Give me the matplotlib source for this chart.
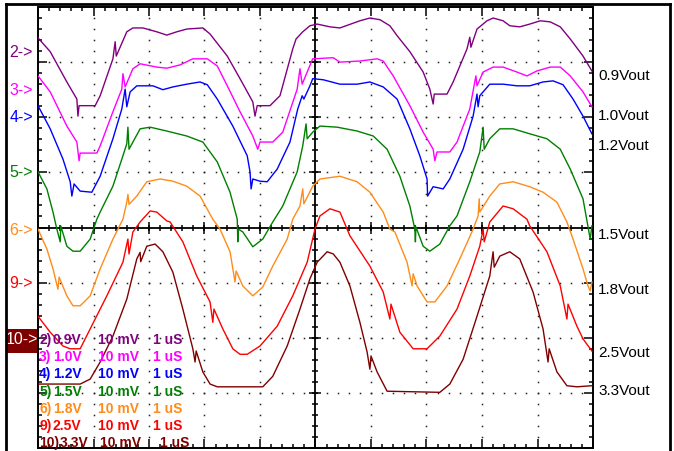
import numpy as np
import matplotlib
matplotlib.use("Agg")
import matplotlib.pyplot as plt
from matplotlib.lines import Line2D
from matplotlib.patches import Rectangle

# -----------------------------
# Scope traces: time in us (1 uS/div), position in screen divisions (10 mV/div, 0 = centre)
# -----------------------------
t2 = [0, 0.22, 0.52, 0.70, 0.72, 0.74, 1.03, 1.12, 1.35, 1.39, 1.41, 1.60, 1.71, 1.89, 2.14, 2.32,
      2.50, 2.68, 2.97, 3.10, 3.41, 3.64, 3.87, 3.91, 3.95, 4.18, 4.36, 4.59, 4.65, 4.77, 4.90, 5.03,
      5.26, 5.44, 5.80, 5.98, 6.16, 6.34, 6.47, 6.70, 6.94, 7.06, 7.12, 7.14, 7.37, 7.48, 7.73, 7.78,
      7.80, 7.91, 8.09, 8.20, 8.38, 8.50, 8.68, 8.86, 9.05, 9.23, 9.41, 9.59, 9.82, 9.98]
y2 = [3.44, 3.19, 2.64, 2.33, 2.02, 2.21, 2.21, 2.39, 3.06, 3.37, 3.11, 3.55, 3.62, 3.62, 3.55, 3.49,
      3.55, 3.60, 3.62, 3.51, 3.11, 2.70, 2.28, 2.02, 2.21, 2.21, 2.39, 3.24, 3.42, 3.55, 3.66, 3.69,
      3.64, 3.62, 3.75, 3.80, 3.77, 3.66, 3.48, 3.19, 2.82, 2.51, 2.24, 2.42, 2.42, 2.64, 3.24, 3.45,
      3.27, 3.60, 3.75, 3.80, 3.75, 3.66, 3.64, 3.69, 3.75, 3.73, 3.64, 3.42, 3.11, 2.84]

t3 = [0, 0.22, 0.52, 0.70, 0.74, 0.76, 1.06, 1.12, 1.35, 1.51, 1.53, 1.57, 1.71, 1.84, 2.14, 2.32,
      2.56, 2.79, 3.05, 3.23, 3.41, 3.64, 3.87, 3.96, 4.00, 4.23, 4.41, 4.67, 4.72, 4.76, 4.85, 4.95,
      5.32, 5.44, 5.80, 6.11, 6.22, 6.40, 6.70, 6.94, 7.12, 7.15, 7.19, 7.42, 7.55, 7.78, 7.89, 7.91,
      8.02, 8.20, 8.38, 8.63, 8.81, 8.99, 9.23, 9.41, 9.59, 9.82, 9.98]
y3 = [2.75, 2.46, 1.84, 1.55, 1.21, 1.35, 1.35, 1.48, 2.10, 2.51, 2.79, 2.55, 2.88, 2.97, 2.91, 2.89,
      2.95, 3.06, 3.06, 2.93, 2.57, 2.10, 1.66, 1.42, 1.55, 1.55, 1.73, 2.51, 2.88, 2.60, 2.82, 3.06,
      3.08, 3.00, 3.02, 3.06, 3.02, 2.75, 2.21, 1.73, 1.42, 1.21, 1.37, 1.37, 1.55, 2.15, 2.75, 2.57,
      2.82, 2.91, 2.91, 2.82, 2.75, 2.84, 2.91, 2.91, 2.75, 2.46, 2.19]

t4 = [0, 0.22, 0.45, 0.58, 0.61, 0.65, 0.76, 0.97, 1.12, 1.35, 1.51, 1.57, 1.60, 1.66, 1.78, 2.07,
      2.25, 2.43, 2.68, 2.92, 3.05, 3.23, 3.51, 3.77, 3.82, 3.84, 3.87, 4.00, 4.13, 4.31, 4.54, 4.68,
      4.76, 4.79, 4.90, 4.95, 5.14, 5.44, 5.75, 5.98, 6.22, 6.47, 6.70, 6.88, 7.01, 7.02, 7.12, 7.30,
      7.42, 7.66, 7.84, 7.91, 7.93, 7.96, 8.14, 8.38, 8.63, 8.86, 9.10, 9.28, 9.46, 9.64, 9.82, 9.98]
y4 = [2.21, 1.79, 1.24, 0.83, 0.57, 0.79, 0.66, 0.64, 0.93, 1.61, 2.15, 2.51, 2.19, 2.46, 2.57, 2.57,
      2.50, 2.55, 2.60, 2.64, 2.59, 2.33, 1.84, 1.30, 1.01, 0.70, 0.88, 0.84, 0.83, 1.06, 1.55, 2.15,
      2.39, 2.33, 2.57, 2.70, 2.68, 2.60, 2.60, 2.64, 2.55, 2.33, 1.79, 1.30, 0.88, 0.57, 0.74, 0.70,
      0.88, 1.42, 2.02, 2.42, 2.19, 2.39, 2.60, 2.60, 2.57, 2.57, 2.64, 2.66, 2.59, 2.33, 2.02, 1.70]

t5 = [0, 0.16, 0.27, 0.34, 0.40, 0.41, 0.52, 0.63, 0.76, 0.94, 1.06, 1.12, 1.35, 1.53, 1.60, 1.62,
      1.64, 1.71, 1.84, 2.02, 2.32, 2.68, 2.97, 3.23, 3.46, 3.59, 3.60, 3.61, 3.69, 3.87, 4.05, 4.23,
      4.41, 4.67, 4.77, 4.83, 4.85, 4.95, 5.08, 5.39, 5.75, 6.04, 6.29, 6.52, 6.70, 6.79, 6.80, 6.81,
      6.94, 7.06, 7.24, 7.42, 7.55, 7.78, 7.96, 8.02, 8.04, 8.14, 8.32, 8.56, 8.86, 9.17, 9.41, 9.59,
      9.82, 9.95, 9.98]
y5 = [1.01, 0.70, 0.28, -0.03, -0.26, 0.03, -0.34, -0.43, -0.43, -0.21, 0.15, 0.28, 0.75, 1.30, 1.52, 1.82,
      1.42, 1.55, 1.79, 1.82, 1.75, 1.66, 1.55, 1.19, 0.64, 0.15, -0.26, -0.03, -0.08, -0.35, -0.21, 0.10,
      0.39, 1.01, 1.48, 1.88, 1.61, 1.73, 1.84, 1.82, 1.75, 1.66, 1.42, 0.93, 0.39, -0.03, -0.26, 0.01,
      -0.34, -0.43, -0.30, 0.03, 0.21, 0.83, 1.37, 1.82, 1.42, 1.61, 1.79, 1.79, 1.70, 1.61, 1.42, 1.06,
      0.52, -0.21, 0.03]

t6 = [0, 0.16, 0.27, 0.36, 0.38, 0.52, 0.63, 0.76, 0.94, 1.12, 1.35, 1.53, 1.60, 1.62, 1.64, 1.78,
      1.96, 2.20, 2.43, 2.68, 2.92, 3.15, 3.28, 3.46, 3.55, 3.57, 3.69, 3.87, 4.05, 4.23, 4.49, 4.59,
      4.72, 4.77, 4.79, 4.95, 5.08, 5.44, 5.75, 5.98, 6.22, 6.34, 6.43, 6.65, 6.74, 6.76, 6.83, 7.01,
      7.15, 7.37, 7.60, 7.84, 7.93, 7.95, 7.96, 8.14, 8.32, 8.56, 8.86, 9.10, 9.35, 9.53, 9.64, 9.82,
      9.91, 9.95, 9.98]
y6 = [-0.03, -0.39, -0.75, -1.12, -0.90, -1.24, -1.42, -1.42, -1.24, -0.75, -0.21, 0.15, 0.46, 0.60, 0.42, 0.57,
      0.83, 0.88, 0.84, 0.75, 0.57, 0.15, -0.03, -0.44, -0.99, -0.79, -1.06, -1.24, -1.08, -0.70, -0.21, 0.15,
      0.39, 0.70, 0.43, 0.75, 0.88, 0.93, 0.83, 0.64, 0.28, -0.03, -0.08, -0.63, -1.06, -0.84, -1.06, -1.35,
      -1.35, -1.06, -0.57, -0.03, 0.21, 0.52, 0.28, 0.57, 0.79, 0.83, 0.74, 0.64, 0.46, 0.10, -0.21, -0.75,
      -1.06, -1.15, -0.99]

t9 = [0, 0.22, 0.45, 0.58, 0.76, 0.94, 1.24, 1.53, 1.62, 1.64, 1.71, 1.84, 2.02, 2.14, 2.32, 2.38,
      2.61, 2.86, 3.10, 3.15, 3.17, 3.33, 3.51, 3.64, 3.77, 4.00, 4.31, 4.59, 4.85, 4.99, 5.08, 5.26,
      5.44, 5.62, 5.98, 6.22, 6.34, 6.36, 6.52, 6.76, 7.01, 7.24, 7.55, 7.78, 7.96, 8.02, 8.04, 8.14,
      8.38, 8.56, 8.81, 8.86, 9.17, 9.41, 9.53, 9.55, 9.71, 9.82, 9.98]
y9 = [-1.61, -1.90, -2.15, -2.20, -2.20, -1.84, -1.24, -0.63, -0.21, -0.48, -0.08, 0.10, 0.30, 0.28, 0.12, 0.10,
      -0.26, -0.88, -1.35, -1.72, -1.48, -1.84, -2.20, -2.30, -2.30, -2.15, -1.79, -1.24, -0.63, -0.03, 0.21, 0.34,
      0.28, -0.15, -0.70, -1.17, -1.66, -1.39, -1.90, -2.20, -2.20, -1.97, -1.48, -0.88, -0.34, -0.03, -0.26, 0.10,
      0.39, 0.34, 0.15, 0.03, -0.44, -1.06, -1.66, -1.39, -1.79, -2.02, -2.24]

t10 = [0, 0.76, 0.94, 1.12, 1.35, 1.60, 1.78, 1.84, 1.85, 1.96, 2.11, 2.25, 2.43, 2.61, 2.79, 2.83,
       2.85, 2.97, 3.10, 3.23, 4.05, 4.23, 4.49, 4.72, 4.90, 5.03, 5.21, 5.32, 5.44, 5.62, 5.80, 5.93,
       5.98, 6.00, 6.11, 6.29, 7.24, 7.42, 7.66, 7.91, 8.14, 8.20, 8.22, 8.32, 8.50, 8.68, 8.92, 9.10,
       9.19, 9.21, 9.35, 9.53, 9.71, 9.98]
y10 = [-2.84, -2.84, -2.75, -2.44, -1.97, -1.30, -0.57, -0.45, -0.62, -0.34, -0.30, -0.44, -0.81, -1.48, -2.20, -2.44,
       -2.24, -2.62, -2.84, -2.89, -2.89, -2.70, -2.15, -1.48, -0.93, -0.63, -0.44, -0.48, -0.63, -1.06, -1.72, -2.26,
       -2.57, -2.33, -2.62, -2.97, -2.99, -2.84, -2.39, -1.61, -0.88, -0.44, -0.72, -0.52, -0.44, -0.57, -1.17, -1.84,
       -2.44, -2.20, -2.62, -2.87, -2.89, -2.87]

times = [t2, t3, t4, t5, t6, t9, t10]
levels = [y2, y3, y4, y5, y6, y9, y10]
colors = ["#800080", "#ff00ff", "#0000ff", "#008000", "#ff8c1a", "#ff0000", "#800000"]

# channel markers on the left, and output rail labels on the right
marker_labels = ["2->", "3->", "4->", "5->", "6->", "9->", "10->"]
marker_pos = [3.20, 2.50, 2.01, 1.01, -0.03, -0.99, -2.02]
rail_labels = ["0.9Vout", "1.0Vout", "1.2Vout", "1.5Vout", "1.8Vout", "2.5Vout", "3.3Vout"]
rail_pos = [2.77, 2.04, 1.50, -0.12, -1.12, -2.26, -2.95]

# channel info block
chan_ids = ["2)", "3)", "4)", "5)", "6)", "9)", "10)"]
chan_volts = ["0.9V", "1.0V", "1.2V", "1.5V", "1.8V", "2.5V", "3.3V"]
chan_scale = "10 mV"
chan_time = "1 uS"

plt.rcParams["font.family"] = ["Liberation Sans", "DejaVu Sans"]

fig = plt.figure(figsize=(6.74, 4.52), dpi=100)
ax = fig.add_axes([38 / 674, 3 / 452, 555 / 674, 441 / 452])
ax.set_xlim(0, 10)
ax.set_ylim(-4, 4)

# graticule: dotted division lines
minor = np.arange(0, 10.001, 0.2)
minor_y = np.arange(-4, 4.001, 0.2)
for gx in range(1, 10):
    if gx != 5:
        ax.plot(np.full(len(minor_y), gx), minor_y, ls="none", marker="s",
                ms=1.1, color="#222222", mew=0, zorder=1)
for gy in range(-3, 4):
    if gy != 0:
        ax.plot(minor, np.full(len(minor), gy), ls="none", marker="s",
                ms=1.1, color="#222222", mew=0, zorder=1)

# centre axes with ticks
ax.axvline(5, color="black", lw=1.3, zorder=1)
ax.axhline(0, color="black", lw=1.3, zorder=1)
ax.plot(np.full(len(minor_y), 5), minor_y, ls="none", marker="_", ms=5, mew=1.1, color="black", zorder=1)
ax.plot(minor, np.zeros(len(minor)), ls="none", marker="|", ms=5, mew=1.1, color="black", zorder=1)
ax.plot(np.full(9, 5), np.arange(-4, 5), ls="none", marker="_", ms=8, mew=1.1, color="black", zorder=1)
ax.plot(np.arange(0, 11), np.zeros(11), ls="none", marker="|", ms=8, mew=1.1, color="black", zorder=1)

# traces
for tt, yy, c in zip(times, levels, colors):
    ax.plot(tt, yy, color=c, lw=1.0, zorder=3)

# edge ticks
ax.set_xticks(np.arange(0, 11, 1))
ax.set_yticks(np.arange(-4, 5, 1))
ax.set_xticks(minor, minor=True)
ax.set_yticks(minor_y, minor=True)
ax.tick_params(which="both", direction="in", top=True, right=True, bottom=True, left=True,
               labelbottom=False, labelleft=False, width=1.1, color="black")
ax.tick_params(which="major", length=6.5)
ax.tick_params(which="minor", length=3)
for s in ax.spines.values():
    s.set_linewidth(1.4)
    s.set_color("black")

# channel info text
x_cols = [0.02, 0.27, 1.08, 2.07]
row_y = [-2.02, -2.33, -2.64, -2.97, -3.28, -3.59, -3.90]
for i, (cid, cv, c) in enumerate(zip(chan_ids, chan_volts, colors)):
    xv = x_cols[1] if i < 6 else 0.40
    xs = x_cols[2] if i < 6 else 1.12
    xt = x_cols[3] if i < 6 else 2.20
    for txt, xx in [(cid, x_cols[0]), (cv, xv), (chan_scale, xs), (chan_time, xt)]:
        ax.text(xx, row_y[i], txt, color=c, fontsize=10, fontweight="bold",
                va="center", ha="left", zorder=5)

# left channel markers
for lab, yy, c in zip(marker_labels, marker_pos, colors):
    if lab == "10->":
        ax.add_patch(Rectangle((-0.56, -2.28), 0.55, 0.44, facecolor=c, edgecolor="none",
                               transform=ax.transData, clip_on=False, zorder=4))
        ax.text(0.0, yy, lab, color="white", fontsize=11.5, ha="right", va="center",
                clip_on=False, zorder=5)
    else:
        ax.text(-0.09, yy, lab, color=c, fontsize=11.5, ha="right", va="center", clip_on=False)

# right rail labels
for lab, yy in zip(rail_labels, rail_pos):
    ax.text(10.09, yy, lab, color="black", fontsize=11, ha="left", va="center", clip_on=False)

# outer frame of the screenshot
fig.add_artist(Line2D([6 / 674, 6 / 674], [0, 1 - 5 / 452], color="black", lw=2))
fig.add_artist(Line2D([6 / 674, 670 / 674], [1 - 5 / 452, 1 - 5 / 452], color="black", lw=2))
fig.add_artist(Line2D([670 / 674, 670 / 674], [0, 1 - 5 / 452], color="black", lw=2))

fig.savefig("out.png", dpi=100)
